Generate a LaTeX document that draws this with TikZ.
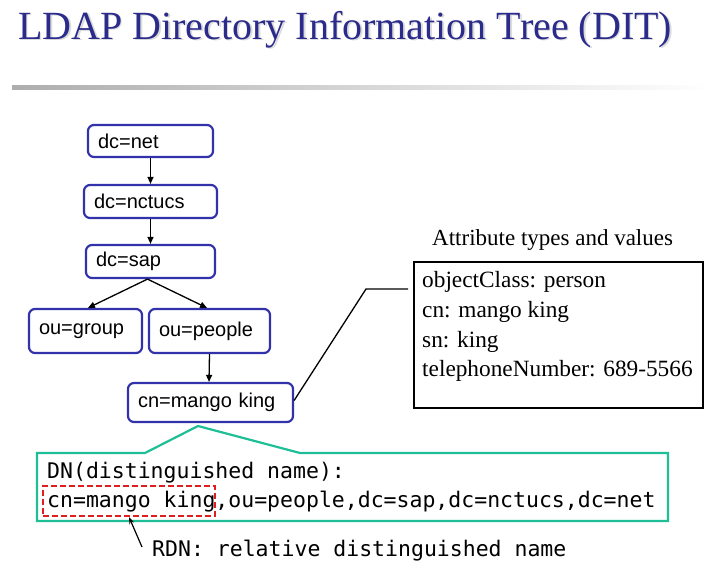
\documentclass[tikz,border=0pt]{standalone}
\usepackage{fontspec}
\setmainfont{Liberation Serif}
\setsansfont{Liberation Sans}
\setmonofont{DejaVu Sans Mono}
\usetikzlibrary{arrows.meta}
\definecolor{titleblue}{RGB}{43,43,140}
\definecolor{boxblue}{RGB}{50,50,170}
\definecolor{dngreen}{RGB}{30,190,150}
\definecolor{rdnred}{RGB}{225,30,30}
\begin{document}
\begin{tikzpicture}[x=1pt,y=-1pt,
  treebox/.style={draw=boxblue, line width=2.2pt, rounded corners=6pt,
    font=\sffamily\fontsize{20}{24}\selectfont, inner xsep=10pt, inner ysep=0pt,
    align=left, anchor=center},
  treearrow/.style={-{Triangle[length=7pt,width=6pt]}, line width=1.3pt},
  attrtext/.style={anchor=base west, inner sep=0pt, font=\fontsize{23.3}{28}\selectfont},
  monotext/.style={anchor=base west, inner sep=0pt, font=\ttfamily\fontsize{21.5}{25}\selectfont},
  titletext/.style={anchor=base west, inner sep=0pt, font=\fontsize{40}{46}\selectfont},
]
\useasboundingbox (0,0) rectangle (724,574);

% title
\node[titletext, text=black!14] (titleshadow) at (19.5,40.5) {LDAP Directory Information Tree (DIT)};
\node[titletext, text=titleblue] (title) at (18,39) {LDAP Directory Information Tree (DIT)};
\shade[left color=black!32, right color=white] (12,85.5) rectangle (712,89.5);

% tree
\node[treebox, text width=105pt, minimum height=32pt] (net) at (150.5,141) {dc=net};
\node[treebox, text width=113pt, minimum height=33pt] (nctucs) at (150.5,201.5) {dc=nctucs};
\node[treebox, text width=109pt, minimum height=33pt] (sap) at (150.5,261.5) {dc=sap};
\node[treebox, text width=93pt, minimum height=44pt] (group) at (85.5,331) {ou=group};
\node[treebox, text width=101pt, minimum height=44pt] (people) at (209.5,331) {ou=people};
\node[treebox, text width=145pt, minimum height=39pt] (cn) at (210.5,402.5) {cn=mango king};

\draw[treearrow] (net.south) -- (nctucs.north);
\draw[treearrow] (nctucs.south) -- (sap.north);
\draw[treearrow] ([xshift=-3pt]sap.south) -- ([xshift=2.5pt]group.north);
\draw[treearrow] ([xshift=-3pt]sap.south) -- ([xshift=-2.5pt]people.north);
\draw[treearrow] (people.south) -- ([xshift=-1.5pt]cn.north);

% attributes
\node[font=\fontsize{23}{27}\selectfont, anchor=base west, inner sep=0pt] (attrtitle) at (432,245) {Attribute types and values};
\node[draw, line width=1.3pt, minimum width=289pt, minimum height=146pt, inner sep=0pt] (attr) at (558.5,335) {};
\node[attrtext] (a1) at (422,287) {objectClass: person};
\node[attrtext] (a2) at (422,317) {cn: mango king};
\node[attrtext] (a3) at (422,347) {sn: king};
\node[attrtext] (a4) at (422,376) {telephoneNumber: 689-5566};
\coordinate (bend) at (366,289);
\coordinate (lend) at (408,289);
\draw[line width=1.3pt] ([yshift=2pt]cn.east) -- (bend) -- (lend);

% DN callout
\draw[dngreen, line width=2.2pt, line join=miter]
  (37,453) -- (145,453) -- (198,426) -- (300,453) -- (668,453) -- (668,521) -- (37,521) -- cycle;
\node[monotext] (dn1) at (47,478) {DN(distinguished name):};
\node[monotext] (dn2) at (47,507) {cn=mango king,ou=people,dc=sap,dc=nctucs,dc=net};
\node[draw=rdnred, dash pattern=on 6pt off 3pt, line width=2pt, minimum width=172pt, minimum height=30pt, inner sep=0pt] (rdnbox) at (129,501) {};
\coordinate (rdntail) at (142,547);
\draw[-{Stealth[length=7pt,width=5pt]}, line width=1.2pt] (rdntail) -- (rdnbox.south);
\node[monotext] (rdn) at (152,556) {RDN: relative distinguished name};
\end{tikzpicture}
\end{document}
